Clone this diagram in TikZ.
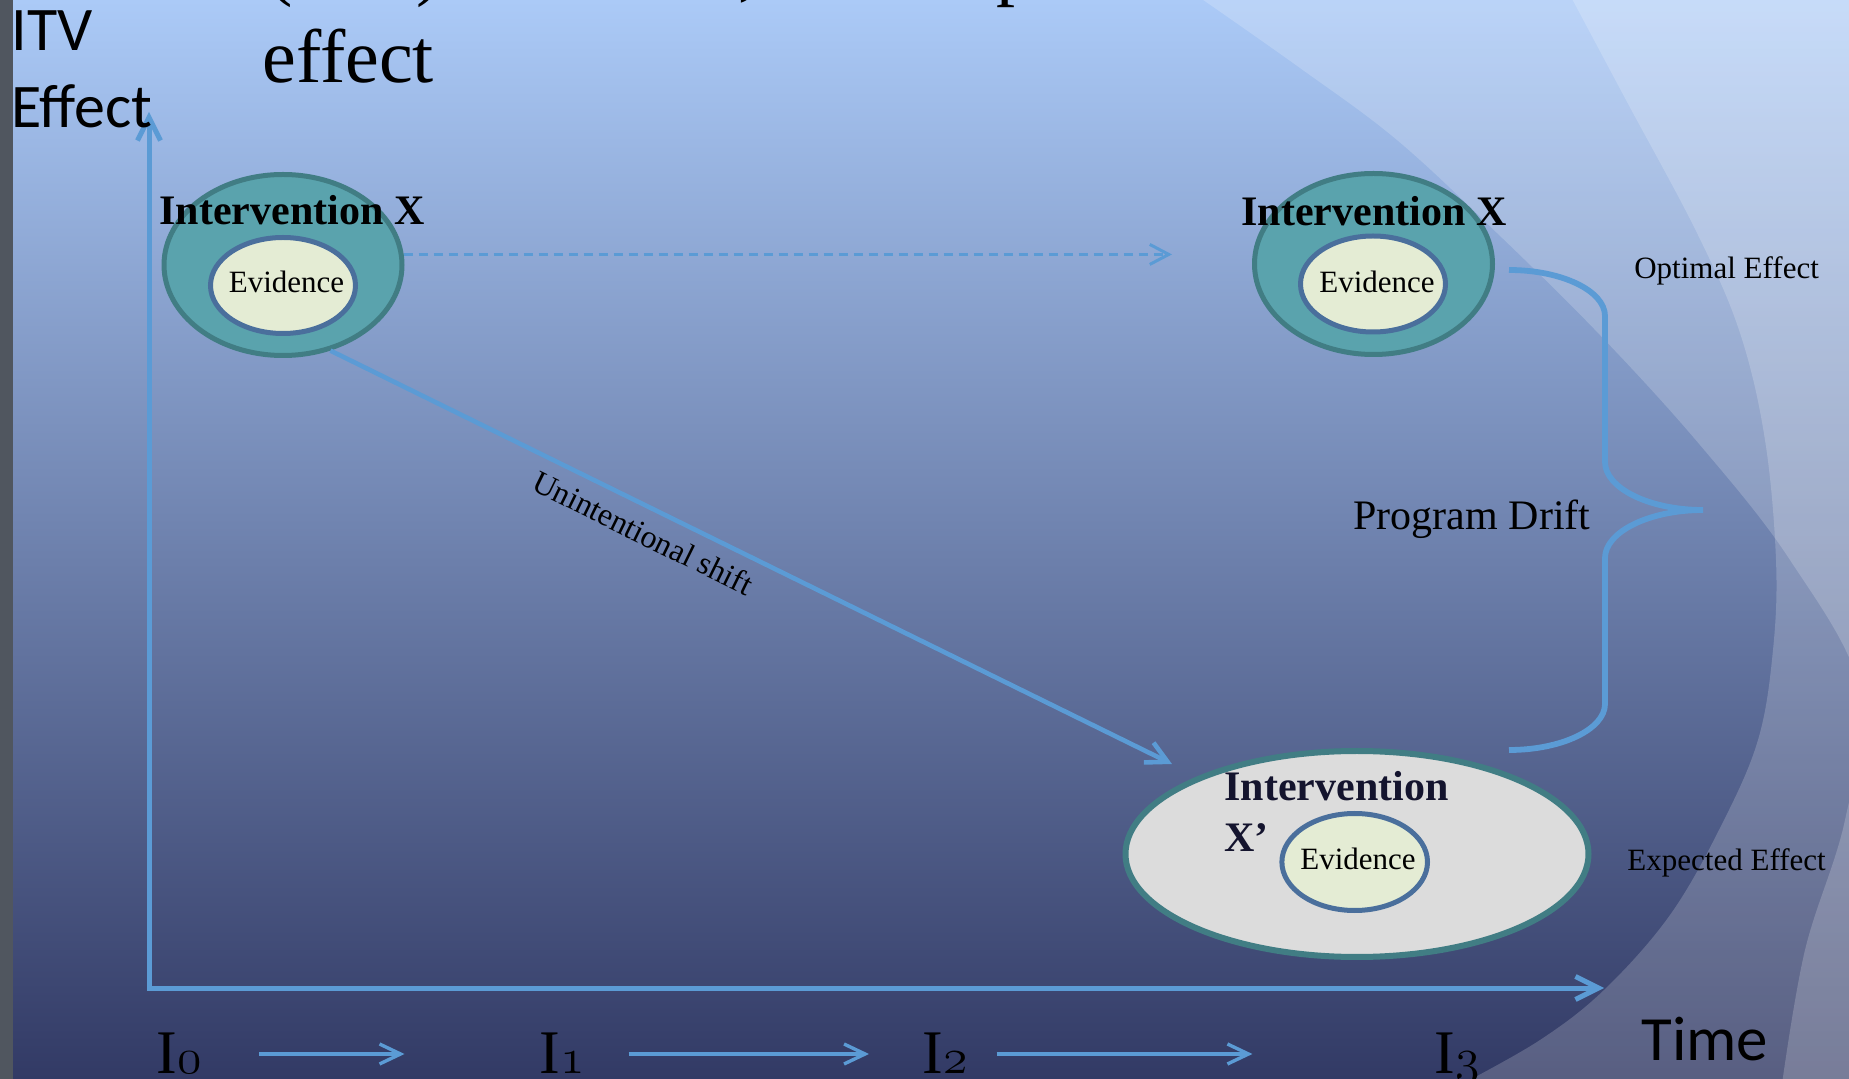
\documentclass[tikz,border=0pt]{standalone}
\usepackage{fontspec}
\setmainfont{Liberation Serif}
\newfontfamily\calib{Carlito}
\usetikzlibrary{arrows.meta,shapes.geometric}

\definecolor{bgtop}{HTML}{ABCAF7}
\definecolor{bgbot}{HTML}{323A65}
\definecolor{stripgrey}{HTML}{50565F}
\definecolor{linkblue}{HTML}{5B9BD5}
\definecolor{tealfill}{HTML}{5AA3AD}
\definecolor{tealrim}{HTML}{417D84}
\definecolor{evfill}{HTML}{E4ECD4}
\definecolor{evrim}{HTML}{4A6F9C}
\definecolor{greyfill}{HTML}{DCDCDC}
\definecolor{navytext}{HTML}{14142E}

% old-style figures for the time points
\newcommand{\osfig}[1]{{\usefont{OML}{lmm}{m}{it}#1}}

\tikzset{
  outerbub/.style={ellipse, draw=tealrim, fill=tealfill, line width=2.5pt,
    minimum width=119pt, minimum height=90.5pt, inner sep=0pt},
  evbub/.style={ellipse, draw=evrim, fill=evfill, line width=2.5pt,
    minimum width=72.5pt, minimum height=48pt, inner sep=0pt},
  driftbub/.style={ellipse, draw=tealrim, fill=greyfill, line width=3pt,
    minimum width=231.5pt, minimum height=103pt, inner sep=0pt},
  axisline/.style={draw=linkblue, line width=2.5pt,
    {Straight Barb[length=11.5pt,width=11.5pt]}-{Straight Barb[length=11.5pt,width=11.5pt]}},
  shiftarrow/.style={draw=linkblue, line width=2.3pt,
    -{Straight Barb[length=10.5pt,width=11pt]}},
  dasharrow/.style={draw=linkblue, line width=1.5pt, dash pattern=on 4.5pt off 3pt,
    -{Straight Barb[length=9.5pt,width=10pt]}},
  steparrow/.style={draw=linkblue, line width=1.7pt,
    -{Straight Barb[length=10.5pt,width=10pt]}},
  bracepath/.style={draw=linkblue, line width=2.9pt},
  headtxt/.style={inner sep=0pt, font=\bfseries\fontsize{21}{25.35}\selectfont},
  evtxt/.style={inner sep=0pt, font=\fontsize{15.5}{18}\selectfont},
  sidetxt/.style={inner sep=0pt, font=\fontsize{15.5}{18}\selectfont},
  sanslbl/.style={inner sep=0pt, font=\calib\fontsize{31}{38.5}\selectfont},
  ticklbl/.style={inner sep=0pt, anchor=base west, font=\fontsize{31}{36}\selectfont},
  titletxt/.style={inner sep=0pt, anchor=base west, font=\fontsize{38}{45.5}\selectfont},
}

\begin{document}
\begin{tikzpicture}[x=0.5pt,y=-0.5pt]
\useasboundingbox (0,0) rectangle (1849,1079);
\clip (0,0) rectangle (1849,1079);

% backdrop: vertical gradient with two translucent swooshes on the right
\shade[top color=bgtop, bottom color=bgbot] (0,0) rectangle (1849,1079);
\fill[white, fill opacity=.19] plot[smooth, tension=.6] coordinates
  {(1196,-5) (1300,68) (1397,140) (1497,233) (1600,335) (1700,445) (1790,560)
   (1860,690) (1845,820) (1805,950) (1782,1084)} -- (1900,1084) -- (1900,-5) -- cycle;
\fill[white, fill opacity=.19] plot[smooth, tension=.6] coordinates
  {(1570,-5) (1626,100) (1697,233) (1740,333) (1765,440) (1776,560) (1773,650)
   (1758,740) (1721,826) (1670,915) (1604,990) (1540,1040) (1462,1084)}
   -- (1900,1084) -- (1900,-5) -- cycle;
\fill[stripgrey] (0,0) rectangle (13,1079);

% title lines (the first one runs off the top edge)
\node[titletxt] (tA) at (267,-8) {(};
\node[titletxt] (tB) at (416,-8) {)};
\node[titletxt] (tC) at (738,-8) {,};
\node[titletxt] (tD) at (996,-8) {p};
\node[titletxt] (tE) at (262,83) {effect};

% axes
\coordinate (origin) at (149,988);
\coordinate (yTop) at (149,112);
\coordinate (xEnd) at (1604,988);
\draw[axisline] (yTop) -- (origin) -- (xEnd);
\node[sanslbl, anchor=base west, align=left] (itvLbl) at (11,128) {ITV\\Effect};
\node[sanslbl, anchor=base west, font=\calib\fontsize{31.5}{38}\selectfont] (timeLbl) at (1641,1060) {Time};

% intervention at the start
\node[outerbub] (ixL) at (283,265) {};
\node[evbub] (evL) at (283,285.5) {};
\node[headtxt, anchor=base] (ixLtxt) at (292,225) {Intervention X};
\node[evtxt, anchor=base] (evLtxt) at (286.5,293) {Evidence};

% intervention delivered as designed
\node[outerbub] (ixR) at (1373.5,264) {};
\node[evbub] (evR) at (1373,284) {};
\node[headtxt, anchor=base] (ixRtxt) at (1374,225.5) {Intervention X};
\node[evtxt, anchor=base] (evRtxt) at (1377,292.5) {Evidence};

% drifted intervention
\node[driftbub] (ixD) at (1357,854) {};
\node[evbub, minimum width=72.8pt, minimum height=48.5pt] (evD) at (1354.7,862) {};
\node[headtxt, anchor=base west, align=left, text=navytext] (ixDtxt) at (1224,851.7) {Intervention\\X’};
\node[evtxt, anchor=base] (evDtxt) at (1358,869.5) {Evidence};

% connectors
\coordinate (dashEnd) at (1172,254);
\draw[dasharrow] (ixL.5) -- (ixL.5 -| dashEnd);
\coordinate (shiftEnd) at (1172,764);
\draw[shiftarrow] (ixL.-61) -- node[sloped, below=6pt, pos=.385, inner sep=0pt,
  font=\fontsize{16}{19}\selectfont] (shiftLbl) {Unintentional shift} (shiftEnd);

% brace between the two outcomes
\coordinate (brTop) at (1509,270);
\coordinate (brTip) at (1703,510);
\coordinate (brBot) at (1509,750);
\draw[bracepath] (brTop) .. controls +(53,0) and +(0,-25) .. (1605,316) -- (1605,462)
  .. controls +(0,26) and +(-54,0) .. (brTip)
  .. controls +(-54,0) and +(0,-26) .. (1605,558) -- (1605,704)
  .. controls +(0,25) and +(53,0) .. (brBot);
\node[inner sep=0pt, anchor=base, font=\fontsize{21}{25}\selectfont] (driftLbl) at (1472,530) {Program Drift};
\node[sidetxt, anchor=base] (optLbl) at (1726.6,278.7) {Optimal Effect};
\node[sidetxt, anchor=base] (expLbl) at (1726.6,870.6) {Expected Effect};

% time points
\node[ticklbl] (I0) at (156,1073) {I\osfig{0}};
\node[ticklbl] (I1) at (539,1073) {I\osfig{1}};
\node[ticklbl] (I2) at (922,1073) {I\osfig{2}};
\node[ticklbl] (I3) at (1434,1073) {I\osfig{3}};
\coordinate (s1a) at (259,1054);   \coordinate (s1b) at (404.5,1054);
\coordinate (s2a) at (628.5,1054); \coordinate (s2b) at (869,1054);
\coordinate (s3a) at (996.5,1054); \coordinate (s3b) at (1252.4,1054);
\draw[steparrow] (s1a) -- (s1b);
\draw[steparrow] (s2a) -- (s2b);
\draw[steparrow] (s3a) -- (s3b);
\end{tikzpicture}
\end{document}
